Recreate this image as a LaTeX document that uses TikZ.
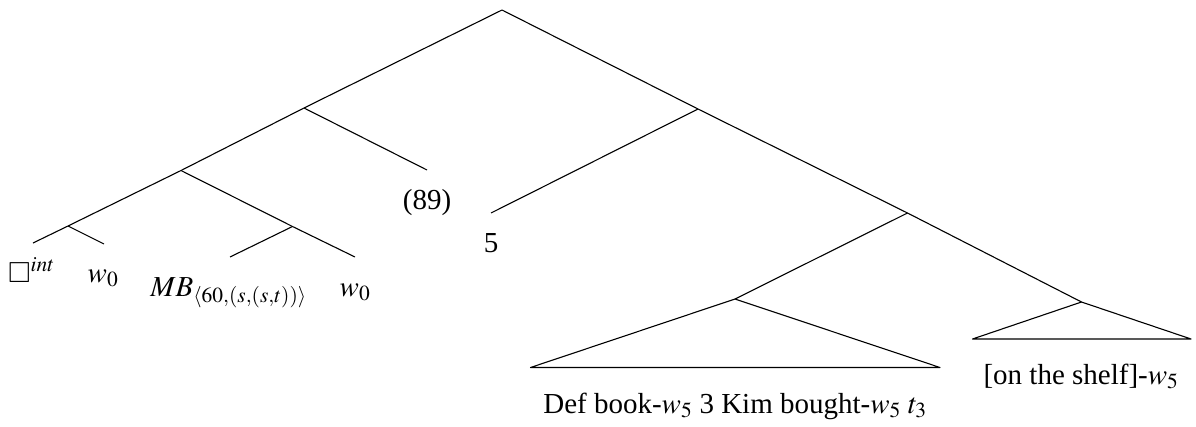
\documentclass[tikz,border=0pt]{standalone}
\usepackage{amssymb}
\usepackage{mathptmx}
\usepackage[no-math]{fontspec}
\setmainfont{Liberation Serif}
\begin{document}
\begin{tikzpicture}[x=1pt,y=-1pt,
  edge/.style={line width=1.1pt, line join=round},
  lbl/.style={anchor=base, inner sep=0pt, font=\fontsize{29}{35}\selectfont}]
\useasboundingbox (0,0) rectangle (1196,426);
% internal nodes
\coordinate (root) at (502,10);
\coordinate (A) at (304,108);
\coordinate (B) at (181,170.5);
\coordinate (C) at (68,226);
\coordinate (c1) at (33,243);
\coordinate (c2) at (104,244);
\coordinate (D) at (292.5,226.5);
\coordinate (d1) at (230,257);
\coordinate (d2) at (355,257);
\coordinate (a2) at (427,170);
\coordinate (E) at (698,109);
\coordinate (e1) at (491,213);
\coordinate (F) at (907.5,213);
\coordinate (H) at (735,299);
\coordinate (hl) at (530.5,367.5);
\coordinate (hr) at (940,367.5);
\coordinate (G) at (1081.5,302);
\coordinate (gl) at (972.5,339);
\coordinate (gr) at (1191,339);
% edges
\draw[edge] (root) -- (A) -- (B) -- (C) -- (c1);
\draw[edge] (C) -- (c2);
\draw[edge] (B) -- (D) -- (d2);
\draw[edge] (D) -- (d1);
\draw[edge] (A) -- (a2);
\draw[edge] (root) -- (E) -- (F) -- (G);
\draw[edge] (E) -- (e1);
\draw[edge] (F) -- (H);
\draw[edge] (H) -- (hl) -- (hr) -- cycle;
\draw[edge] (G) -- (gl) -- (gr) -- cycle;
% labels
\node[lbl] (l1) at (31.5,282) {$\square^{int}$};
\node[lbl] (l2) at (103,282) {$w_0$};
\node[lbl] (l3) at (228.5,296) {$MB_{\langle 60,(s,(s,t))\rangle}$};
\node[lbl] (l4) at (355,296) {$w_0$};
\node[lbl] (l5) at (427,209) {(89)};
\node[lbl] (l6) at (491,252) {5};
\node[lbl] (l7) at (735,413) {Def book-$w_5$ 3 Kim bought-$w_5$ $t_3$};
\node[lbl] (l8) at (1081,384) {[on the shelf]-$w_5$};
\end{tikzpicture}
\end{document}
